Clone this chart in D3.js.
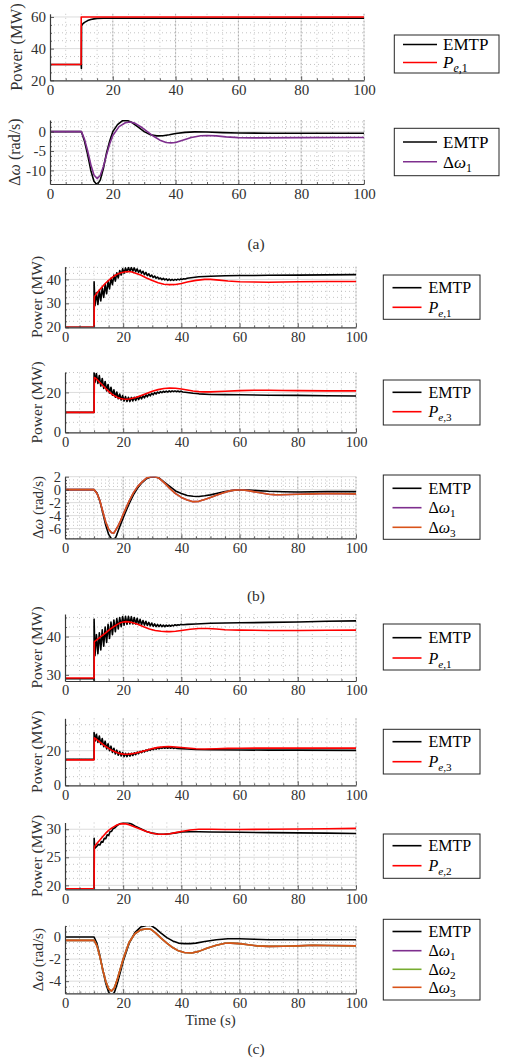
<!DOCTYPE html>
<html><head><meta charset="utf-8">
<script src="https://cdn.jsdelivr.net/npm/d3@7"></script>
<style>
body{margin:0;background:#fff}
svg{display:block}
svg text, svg tspan{font-family:'Liberation Serif','DejaVu Serif','Times New Roman',serif !important;}
</style>
</head><body>
<svg id="c" width="506" height="1064" font-family="Liberation Serif, DejaVu Serif, serif"></svg>
<script>
// ---------- tick labels ----------
const timeTicks = [0, 20, 40, 60, 80, 100];
const ticksA1 = [20, 40, 60];
const ticksA2 = [-10, -5, 0];
const ticksB1 = [20, 30, 40];
const ticksB2 = [0, 20];
const ticksB3 = [-6, -4, -2, 0, 2];
const ticksC1 = [30, 40];
const ticksC2 = [0, 20];
const ticksC3 = [20, 25, 30];
const ticksC4 = [-4, -2, 0];

// ---------- series (time s, value) ----------
const a1EMTP = [[0,30],[9.95,30],[10,27.5],[10.05,54.5],[10.5,55.8],[11,56.6],[12,57.7],[13,58.4],[14,58.8],[15,59],[17,59.2],[20,59.2],[100,59.2]];
const a1Pe1 = [[0,30],[9.9,30],[9.95,60],[100,60]];

const a2EMTP = [[0,0],[10,0],[11,-2.5],[12,-6],[13,-10],[14,-12.8],[15,-13.7],[16,-12.5],[17,-9.5],[18,-5.5],[19,-2.5],[20,0],[21.5,1.8],[23,2.8],[24.5,2.9],[26,2.4],[28,1.2],[30,0],[32,-0.8],[34,-1.1],[36,-1.05],[38,-0.8],[40,-0.5],[43,-0.2],[46,-0.05],[50,-0.1],[55,-0.25],[60,-0.35],[70,-0.4],[80,-0.4],[100,-0.4]];
const a2Dw1 = [[0,0],[10,0],[11,-2],[12,-5],[13,-8.5],[14,-11.2],[15,-12.1],[16,-11.3],[17,-9],[18,-6],[19,-3.2],[20,-1],[22,1.3],[24,2.3],[25.5,2.5],[27,2.2],[29,1.2],[31,0],[33,-1.2],[35,-2.2],[37,-2.8],[38.5,-2.9],[40,-2.8],[42,-2.3],[45,-1.5],[48,-1.05],[50,-1],[53,-1.1],[56,-1.35],[60,-1.55],[65,-1.6],[80,-1.55],[100,-1.5]];

const b1EMTP = [[0,20],[10,20],[10,39],[10.3,29],[10.8,34.5],[11.3,29.5],[11.8,35.5],[12.3,31],[12.8,36.5],[13.3,32.5],[13.8,38],[14.3,34],[14.8,39.3],[15.3,36],[15.8,40.5],[16.3,37.8],[16.8,41.8],[17.3,39.3],[17.8,42.8],[18.3,40.6],[18.8,43.7],[19.3,41.8],[19.8,44.4],[20.3,42.6],[20.8,44.8],[21.3,43.1],[21.8,45],[22.3,43.4],[22.8,45],[23.3,43.4],[23.8,44.8],[24.3,43.2],[24.8,44.4],[25.3,42.9],[25.8,43.9],[26.3,42.5],[26.8,43.4],[27.3,42],[27.8,42.9],[28.3,41.6],[28.8,42.3],[29.3,41.2],[29.8,41.8],[30.3,40.8],[30.8,41.4],[31.3,40.5],[31.8,41],[32.3,40.2],[32.8,40.6],[33.3,39.9],[33.8,40.4],[34.3,39.8],[34.8,40.2],[35.3,39.6],[35.8,40.1],[36.3,39.6],[36.8,40],[37.3,39.6],[37.8,40],[38.3,39.7],[38.8,40.1],[39.3,39.8],[39.8,40.2],[40.3,40],[40.8,40.3],[41.3,40.2],[42,40.5],[44,40.8],[46,41.1],[50,41.3],[55,41.5],[60,41.6],[70,41.7],[80,41.8],[90,41.9],[100,42]];
const b1Pe1 = [[0,20],[10,20],[10.1,32.8],[11,34.3],[12,35.8],[13,37.2],[14,38.5],[15,39.6],[16,40.6],[17,41.5],[18,42.2],[19,42.7],[20,43],[21,43.2],[22,43.3],[23,43.1],[24,42.7],[26,41.8],[28,40.6],[30,39.5],[32,38.6],[34,38],[36,37.8],[38,37.9],[40,38.3],[42,38.9],[45,39.6],[48,40],[50,40],[53,39.7],[56,39.3],[60,39],[70,38.8],[80,39],[90,39.1],[100,39.1]];

const b2EMTP = [[0,10],[10,10],[10,30.5],[10.3,25],[10.8,29.5],[11.3,24.5],[11.8,28.5],[12.3,23.2],[12.8,27],[13.3,22],[13.8,25.5],[14.3,20.8],[14.8,24],[15.3,19.7],[15.8,22.6],[16.3,18.6],[16.8,21.3],[17.3,17.6],[17.8,20.2],[18.3,16.8],[18.8,19.2],[19.3,16.2],[19.8,18.4],[20.3,15.7],[20.8,17.9],[21.3,15.5],[21.8,17.6],[22.3,15.5],[22.8,17.5],[23.3,15.7],[23.8,17.6],[24.3,16],[24.8,17.8],[25.3,16.4],[25.8,18.1],[26.3,16.8],[26.8,18.4],[27.3,17.3],[27.8,18.8],[28.3,17.8],[28.8,19.2],[29.3,18.3],[29.8,19.6],[30.3,18.8],[30.8,19.9],[31.3,19.2],[31.8,20.2],[32.3,19.6],[32.8,20.4],[33.3,19.9],[33.8,20.6],[34.3,20.1],[34.8,20.7],[35.3,20.2],[35.8,20.8],[36.3,20.3],[36.8,20.8],[37.3,20.4],[37.8,20.8],[38.3,20.4],[38.8,20.7],[39.3,20.3],[39.8,20.6],[40.5,20.2],[42,20],[44,19.6],[46,19.3],[50,19],[55,18.9],[60,18.8],[70,18.6],[80,18.5],[90,18.35],[100,18.2]];
const b2Pe3 = [[0,10],[10,10],[10.1,27.5],[11,26.5],[12,25],[13,23.5],[14,22],[15,20.5],[16,19.3],[17,18.3],[18,17.5],[19,17],[20,16.7],[21,16.6],[22,16.7],[24,17.3],[26,18.3],[28,19.5],[30,20.6],[32,21.4],[34,22],[36,22.2],[38,22.1],[40,21.7],[42,21.2],[44,20.7],[46,20.4],[48,20.3],[50,20.3],[55,20.6],[60,20.9],[65,21.1],[70,21.1],[75,21],[80,20.9],[90,20.8],[100,20.8]];

const b3EMTP = [[0,0],[10,0],[11,-0.5],[12,-1.8],[13,-3.6],[14,-5.5],[15,-6.9],[16,-7.6],[16.8,-7.7],[17.5,-7.3],[19,-5.5],[20.5,-3.8],[22,-2.2],[23.5,-0.8],[25,0.3],[26.5,1.1],[28,1.7],[29.5,1.95],[31,2],[32.5,1.75],[34,1.2],[36,0.5],[38,-0.2],[40,-0.6],[42,-0.9],[44,-1.02],[46,-1.05],[48,-0.95],[50,-0.8],[52,-0.6],[55,-0.3],[58,-0.1],[60,-0.05],[63,-0.05],[66,-0.15],[70,-0.25],[75,-0.32],[80,-0.35],[90,-0.3],[100,-0.3]];
const b3Dw1 = [[0,0],[10,0],[11,-0.6],[12,-1.7],[13,-3.4],[14,-5],[15,-6.1],[16,-6.65],[16.8,-6.7],[18,-5.8],[19,-4.9],[20,-3.8],[21,-2.8],[22,-1.8],[23.5,-0.5],[25,0.5],[26.5,1.2],[28,1.8],[29.5,2.0],[30.5,2.05],[32,1.85],[33,1.5],[34.5,0.9],[36,0.2],[38,-0.6],[40,-1.2],[42,-1.6],[44,-1.85],[46,-1.8],[48,-1.5],[50,-1.2],[52,-0.85],[55,-0.4],[57,-0.15],[59,-0.05],[61,-0.05],[63,-0.15],[66,-0.4],[68,-0.55],[70,-0.7],[72,-0.77],[74,-0.78],[77,-0.75],[80,-0.7],[85,-0.65],[90,-0.6],[100,-0.65]];
const b3Dw3 = b3Dw1.map(d => [d[0], d[1]]);

const c1EMTP = [[0,29],[10,29],[10,28.5],[10,44.5],[10.3,35],[10.8,40.5],[11.3,35.5],[11.8,41],[12.3,36.5],[12.8,41.8],[13.3,37.5],[13.8,42.5],[14.3,38.5],[14.8,43.2],[15.3,39.5],[15.8,43.8],[16.3,40.5],[16.8,44.3],[17.3,41.3],[17.8,44.7],[18.3,42],[18.8,45],[19.3,42.6],[19.8,45.2],[20.3,43],[20.8,45.3],[21.3,43.2],[21.8,45.3],[22.3,43.3],[22.8,45.2],[23.3,43.3],[23.8,45],[24.3,43.3],[24.8,44.8],[25.3,43.2],[25.8,44.5],[26.3,43.1],[26.8,44.2],[27.3,43],[27.8,44],[28.3,42.9],[28.8,43.7],[29.3,42.8],[29.8,43.5],[30.3,42.7],[30.8,43.3],[31.3,42.6],[31.8,43.2],[32.3,42.6],[32.8,43.1],[33.3,42.6],[33.8,43],[34.3,42.6],[34.8,43],[35.3,42.7],[35.8,43],[36.3,42.7],[36.8,43],[37.3,42.8],[37.8,43.1],[38.3,42.9],[38.8,43.1],[39.3,43],[39.8,43.2],[40.5,43.1],[42,43.2],[45,43.3],[50,43.5],[60,43.6],[70,43.7],[80,43.8],[90,44],[100,44.1]];
const c1Pe1 = [[0,29.2],[10,29.2],[10.1,38.7],[11,39.2],[12,39.8],[13,40.4],[14,41],[15,41.6],[16,42.2],[17,42.7],[18,43.2],[19,43.6],[20,43.8],[21,43.9],[22,43.85],[23,43.7],[25,43.2],[27,42.6],[29,42],[31,41.6],[33,41.4],[35,41.3],[36,41.3],[38,41.4],[40,41.6],[43,41.9],[46,42.1],[49,42.1],[52,42],[55,41.8],[60,41.7],[70,41.6],[80,41.6],[90,41.65],[100,41.7]];

const c2EMTP = [[0,15],[10,15],[10,30.5],[10.3,25.5],[10.8,29.5],[11.3,24.8],[11.8,28.5],[12.3,23.6],[12.8,27],[13.3,22.3],[13.8,25.5],[14.3,21],[14.8,24],[15.3,20],[15.8,22.6],[16.3,19],[16.8,21.4],[17.3,18.1],[17.8,20.3],[18.3,17.4],[18.8,19.5],[19.3,16.9],[19.8,18.9],[20.3,16.6],[20.8,18.5],[21.3,16.6],[21.8,18.4],[22.3,16.8],[22.8,18.5],[23.3,17.2],[23.8,18.8],[24.3,17.7],[24.8,19.2],[25.3,18.3],[25.8,19.6],[26.3,18.8],[26.8,20],[27.3,19.3],[27.8,20.4],[28.3,19.8],[28.8,20.8],[29.3,20.2],[29.8,21.1],[30.3,20.6],[30.8,21.4],[31.3,20.9],[31.8,21.6],[32.3,21.1],[32.8,21.8],[33.3,21.3],[33.8,21.9],[34.3,21.4],[34.8,21.9],[35.3,21.4],[35.8,21.9],[36.3,21.4],[36.8,21.8],[37.3,21.3],[37.8,21.7],[38.5,21.3],[40,21.2],[42,21],[45,20.7],[50,20.5],[60,20.4],[70,20.3],[80,20.3],[100,20.2]];
const c2Pe3 = [[0,14.7],[10,14.7],[10.1,27.4],[11,26.3],[12,25],[13,23.7],[14,22.4],[15,21.3],[16,20.3],[17,19.5],[18,18.8],[19,18.3],[20,18],[21,17.9],[22,18],[24,18.5],[26,19.3],[28,20.3],[30,21.2],[32,21.9],[34,22.3],[35.5,22.4],[37,22.3],[39,22],[42,21.5],[45,21.1],[48,21],[52,21.1],[56,21.3],[60,21.4],[70,21.5],[80,21.5],[100,21.5]];

const c3EMTP = [[0,19.25],[10,19.25],[10.02,28.4],[10.2,26.6],[11,27],[11.5,27.3],[12,27.2],[12.5,27.8],[13,27.7],[13.5,28.4],[14,28.3],[14.5,29],[15,28.9],[15.5,29.6],[16,29.6],[16.5,30.1],[17,30.2],[18,30.7],[19,31],[20,31.15],[21,31.2],[22,31.1],[23,30.9],[24,30.6],[26,30.1],[28,29.6],[30,29.3],[32,29.15],[34,29.1],[36,29.2],[38,29.35],[40,29.5],[43,29.55],[46,29.55],[50,29.5],[60,29.45],[70,29.4],[80,29.35],[90,29.3],[100,29.25]];
const c3Pe2 = [[0,19.4],[10,19.4],[10.1,26.9],[11,27.5],[12,28.1],[13,28.7],[14,29.3],[15,29.8],[16,30.2],[17,30.5],[18,30.8],[19,30.95],[20,31],[21,30.95],[22,30.8],[24,30.4],[26,30],[28,29.6],[30,29.3],[32,29.1],[34,29.1],[36,29.2],[38,29.4],[40,29.6],[43,29.85],[46,30],[50,30],[55,29.95],[60,29.95],[70,30],[80,30.05],[90,30.1],[100,30.15]];

const c4EMTP = [[0,0],[10,0],[11,-0.6],[12,-1.7],[13,-3],[14,-4.2],[15,-5],[16,-5.3],[17,-5],[18,-4.2],[19,-3.2],[20,-2.2],[22,-0.6],[24,0.4],[26,0.9],[28,1.05],[29.5,1.05],[31,0.8],[33,0.35],[35,-0.05],[37,-0.35],[39,-0.55],[41,-0.6],[43,-0.6],[45,-0.55],[48,-0.4],[52,-0.25],[56,-0.15],[60,-0.15],[65,-0.2],[70,-0.25],[80,-0.25],[90,-0.25],[100,-0.25]];
const c4Dw3 = [[0,-0.3],[10,-0.3],[11,-0.8],[12,-1.8],[13,-3],[14,-4],[15,-4.7],[16,-4.9],[17,-4.6],[18,-3.8],[19,-2.9],[20,-2],[22,-0.5],[24,0.3],[26,0.65],[28,0.75],[29.5,0.7],[31,0.4],[33,-0.1],[35,-0.55],[37,-0.95],[39,-1.25],[41,-1.4],[43.5,-1.45],[46,-1.3],[49,-1],[52,-0.75],[55,-0.57],[57,-0.55],[60,-0.6],[63,-0.7],[66,-0.8],[70,-0.85],[75,-0.83],[80,-0.8],[85,-0.75],[90,-0.77],[100,-0.8]];
const c4Dw1 = c4Dw3.map(d => [d[0], d[1]]);
const c4Dw2 = c4Dw3.map(d => [d[0], d[1]]);

// ---------- colours ----------
const BLACK = "#000000", RED = "#ff0000", PURPLE = "#7e2f8e", GREEN = "#77ac30", ORANGE = "#d95319";
const SERIF = "Liberation Serif, DejaVu Serif, serif";

// ---------- drawing ----------
const svg = d3.select("#c");
const defs = svg.append("defs");
const FONT_TICK = 14.5;

function addLabel(textSel, lab, size) {
  if (lab.kind === "EMTP") { textSel.append("tspan").text("EMTP"); return; }
  const sub = size * 0.7;
  if (lab.kind === "P") {
    textSel.append("tspan").attr("font-style", "italic").text("P");
    textSel.append("tspan").attr("font-style", "italic").attr("font-size", sub).attr("dy", 4).text("e");
    textSel.append("tspan").attr("font-size", sub).text("," + lab.sub);
  } else {
    textSel.append("tspan").text("\u0394");
    textSel.append("tspan").attr("font-style", "italic").text("\u03c9");
    textSel.append("tspan").attr("font-size", sub).attr("dy", 4).text(lab.sub);
  }
}

function drawPanel(p, idx) {
  const x = d3.scaleLinear([0, 100], [p.left, p.right]);
  const y = d3.scaleLinear(p.domain, [p.bottom, p.top]);
  const cid = "clip" + idx;
  defs.append("clipPath").attr("id", cid).append("rect")
    .attr("x", p.left).attr("y", p.top).attr("width", p.right - p.left).attr("height", p.bottom - p.top);
  const g = svg.append("g");

  const eps = 1e-9;
  const yMinor = d3.range(Math.ceil(p.domain[0] / p.minor) * p.minor, p.domain[1] + eps, p.minor)
    .filter(v => !p.ticks.some(t => Math.abs(t - v) < eps));
  const xMinor = d3.range(5, 100, 5).filter(v => v % 20 !== 0);

  // minor grid
  g.selectAll(null).data(yMinor).join("line")
    .attr("x1", p.left).attr("x2", p.right).attr("y1", d => y(d)).attr("y2", d => y(d))
    .attr("stroke", "#b4b4b4").attr("stroke-width", 0.8).attr("stroke-dasharray", "1,3");
  g.selectAll(null).data(xMinor).join("line")
    .attr("y1", p.top).attr("y2", p.bottom).attr("x1", d => x(d)).attr("x2", d => x(d))
    .attr("stroke", "#b4b4b4").attr("stroke-width", 0.8).attr("stroke-dasharray", "1,3");
  // major grid
  g.selectAll(null).data(p.ticks.filter(t => y(t) < p.bottom - 0.5)).join("line")
    .attr("x1", p.left).attr("x2", p.right).attr("y1", d => y(d)).attr("y2", d => y(d))
    .attr("stroke", "#dcdcdc").attr("stroke-width", 1);
  g.selectAll(null).data(timeTicks.slice(1)).join("line")
    .attr("y1", p.top).attr("y2", p.bottom).attr("x1", d => x(d)).attr("x2", d => x(d))
    .attr("stroke", "#e2e2e2").attr("stroke-width", 1);
  g.selectAll(null).data(timeTicks.slice(1)).join("line")
    .attr("y1", p.top).attr("y2", p.bottom).attr("x1", d => x(d)).attr("x2", d => x(d))
    .attr("stroke", "#9c9c9c").attr("stroke-width", 0.8).attr("stroke-dasharray", "1.5,2");

  // series
  const line = d3.line().x(d => x(d[0])).y(d => y(d[1]));
  const sg = g.append("g").attr("clip-path", `url(#${cid})`);
  p.series.forEach(s => {
    sg.append("path").datum(s.data).attr("d", line)
      .attr("fill", "none").attr("stroke", s.color).attr("stroke-width", 1.6)
      .attr("stroke-linejoin", "round");
  });

  // axes
  const ax = g.append("g").attr("transform", `translate(0,${p.bottom})`)
    .call(d3.axisBottom(x).tickValues(timeTicks).tickFormat(d => String(d)).tickSizeInner(-4).tickSizeOuter(0).tickPadding(4));
  const axm = g.append("g").attr("transform", `translate(0,${p.bottom})`)
    .call(d3.axisBottom(x).tickValues(xMinor).tickFormat("").tickSizeInner(-2).tickSizeOuter(0));
  const ay = g.append("g").attr("transform", `translate(${p.left},0)`)
    .call(d3.axisLeft(y).tickValues(p.ticks).tickFormat(d => String(d)).tickSizeInner(-4).tickSizeOuter(0).tickPadding(4));
  const aym = g.append("g").attr("transform", `translate(${p.left},0)`)
    .call(d3.axisLeft(y).tickValues(yMinor).tickFormat("").tickSizeInner(-2).tickSizeOuter(0));
  [ax, axm, ay, aym].forEach(a => {
    a.attr("font-family", SERIF);
    a.select(".domain").attr("stroke", "#3a3a3a").attr("stroke-width", 1.2);
    a.selectAll(".tick line").attr("stroke", "#3a3a3a").attr("stroke-width", 0.8);
    a.selectAll("text").attr("font-family", SERIF).attr("font-size", p.tickFont).attr("fill", "#303030");
  });
  axm.select(".domain").remove(); aym.select(".domain").remove();

  // y label
  const yl = svg.append("text")
    .attr("transform", `translate(${p.ylabelX},${(p.top + p.bottom) / 2}) rotate(-90)`)
    .attr("text-anchor", "middle").attr("dy", "0.35em").attr("font-size", p.labFont).attr("fill", "#303030")
    .attr("font-family", SERIF);
  if (p.ylabel === "P") yl.text("Power (MW)");
  else {
    yl.append("tspan").text("\u0394");
    yl.append("tspan").attr("font-style", "italic").text("\u03c9");
    yl.append("tspan").text(" (rad/s)");
  }
  if (p.xlabelY) {
    svg.append("text").attr("x", (p.left + p.right) / 2).attr("y", p.xlabelY).attr("font-family", SERIF)
      .attr("text-anchor", "middle").attr("font-size", p.labFont).attr("fill", "#303030").text("Time (s)");
  }

  // legend
  const L = p.legend;
  const lg = svg.append("g");
  lg.append("rect").attr("x", L.x0).attr("y", L.top).attr("width", L.x1 - L.x0).attr("height", L.bottom - L.top)
    .attr("fill", "#fff").attr("stroke", "#262626").attr("stroke-width", 1);
  p.series.forEach((s, i) => {
    const yy = L.items[i];
    lg.append("line").attr("x1", L.l0).attr("x2", L.l1).attr("y1", yy).attr("y2", yy)
      .attr("stroke", s.color).attr("stroke-width", 1.6);
    const t = lg.append("text").attr("x", L.tx).attr("y", yy).attr("dy", "0.35em").attr("font-family", SERIF)
      .attr("font-size", L.font).attr("fill", "#000");
    addLabel(t, s.label, L.font);
  });
}

const legA = (top, bottom, items) => ({x0: 394.3, x1: 499, l0: 403, l1: 437, tx: 443, top, bottom, items, font: 17});
const legB = (top, bottom, items) => ({x0: 383.3, x1: 480, l0: 392.5, l1: 421.5, tx: 428.5, top, bottom, items, font: 16});

const panels = [
  {left: 50, right: 364, top: 13.8, bottom: 80.3, domain: [20, 62], ticks: ticksA1, minor: 5, ylabel: "P", ylabelX: 16.5, tickFont: 15, labFont: 16.5,
   series: [{data: a1EMTP, color: BLACK, label: {kind: "EMTP"}}, {data: a1Pe1, color: RED, label: {kind: "P", sub: "1"}}],
   legend: legA(35, 73, [44.5, 62.5])},
  {left: 50, right: 364, top: 120, bottom: 184, domain: [-13.5, 3], ticks: ticksA2, minor: 1.25, ylabel: "W", ylabelX: 14, tickFont: 15, labFont: 16,
   series: [{data: a2EMTP, color: BLACK, label: {kind: "EMTP"}}, {data: a2Dw1, color: PURPLE, label: {kind: "W", sub: "1"}}],
   legend: legA(128.3, 175.7, [142, 161.7])},
  {left: 65, right: 356, top: 266.7, bottom: 327.3, domain: [20, 45.3], ticks: ticksB1, minor: 2.5, ylabel: "P", ylabelX: 36.5, tickFont: FONT_TICK, labFont: 15.5,
   series: [{data: b1EMTP, color: BLACK, label: {kind: "EMTP"}}, {data: b1Pe1, color: RED, label: {kind: "P", sub: "1"}}],
   legend: legB(275, 319.3, [287.7, 307.3])},
  {left: 65, right: 356, top: 372.5, bottom: 432.3, domain: [0, 30], ticks: ticksB2, minor: 5, ylabel: "P", ylabelX: 36.5, tickFont: FONT_TICK, labFont: 15.5,
   series: [{data: b2EMTP, color: BLACK, label: {kind: "EMTP"}}, {data: b2Pe3, color: RED, label: {kind: "P", sub: "3"}}],
   legend: legB(380, 425, [392.3, 411.7])},
  {left: 65, right: 356, top: 476.7, bottom: 538.3, domain: [-7.5, 2], ticks: ticksB3, minor: 0.5, ylabel: "W", ylabelX: 38, tickFont: FONT_TICK, labFont: 15,
   series: [{data: b3EMTP, color: BLACK, label: {kind: "EMTP"}}, {data: b3Dw1, color: PURPLE, label: {kind: "W", sub: "1"}}, {data: b3Dw3, color: ORANGE, label: {kind: "W", sub: "3"}}],
   legend: legB(475, 539.3, [488.3, 507.7, 527.3])},
  {left: 65, right: 356, top: 614, bottom: 681, domain: [28.4, 45.9], ticks: ticksC1, minor: 2.5, ylabel: "P", ylabelX: 36.5, tickFont: FONT_TICK, labFont: 15.5,
   series: [{data: c1EMTP, color: BLACK, label: {kind: "EMTP"}}, {data: c1Pe1, color: RED, label: {kind: "P", sub: "1"}}],
   legend: legB(624, 670, [637.7, 658])},
  {left: 65, right: 356, top: 718.3, bottom: 785.3, domain: [0, 38.7], ticks: ticksC2, minor: 5, ylabel: "P", ylabelX: 36.5, tickFont: FONT_TICK, labFont: 15.5,
   series: [{data: c2EMTP, color: BLACK, label: {kind: "EMTP"}}, {data: c2Pe3, color: RED, label: {kind: "P", sub: "3"}}],
   legend: legB(729.3, 774, [741.7, 761.7])},
  {left: 65, right: 356, top: 822.5, bottom: 889.3, domain: [19.3, 31.2], ticks: ticksC3, minor: 1.25, ylabel: "P", ylabelX: 36.5, tickFont: FONT_TICK, labFont: 15.5,
   series: [{data: c3EMTP, color: BLACK, label: {kind: "EMTP"}}, {data: c3Pe2, color: RED, label: {kind: "P", sub: "2"}}],
   legend: legB(834, 878.3, [845.7, 865.7])},
  {left: 65, right: 356, top: 926, bottom: 993.3, domain: [-5.1, 1.0], ticks: ticksC4, minor: 0.5, ylabel: "W", ylabelX: 38, tickFont: FONT_TICK, labFont: 15, xlabelY: 1025,
   series: [{data: c4EMTP, color: BLACK, label: {kind: "EMTP"}}, {data: c4Dw1, color: PURPLE, label: {kind: "W", sub: "1"}}, {data: c4Dw2, color: GREEN, label: {kind: "W", sub: "2"}}, {data: c4Dw3, color: ORANGE, label: {kind: "W", sub: "3"}}],
   legend: legB(919.3, 1000, [931.5, 950.7, 969.3, 987.3])}
];
panels.forEach(drawPanel);

// sub-figure captions
[["(a)", 249], ["(b)", 601], ["(c)", 1054]].forEach(([t, yy]) => {
  svg.append("text").attr("x", 256).attr("y", yy).attr("text-anchor", "middle").attr("font-family", SERIF)
    .attr("font-size", 15.5).attr("fill", "#303030").text(t);
});
</script>
</body></html>
